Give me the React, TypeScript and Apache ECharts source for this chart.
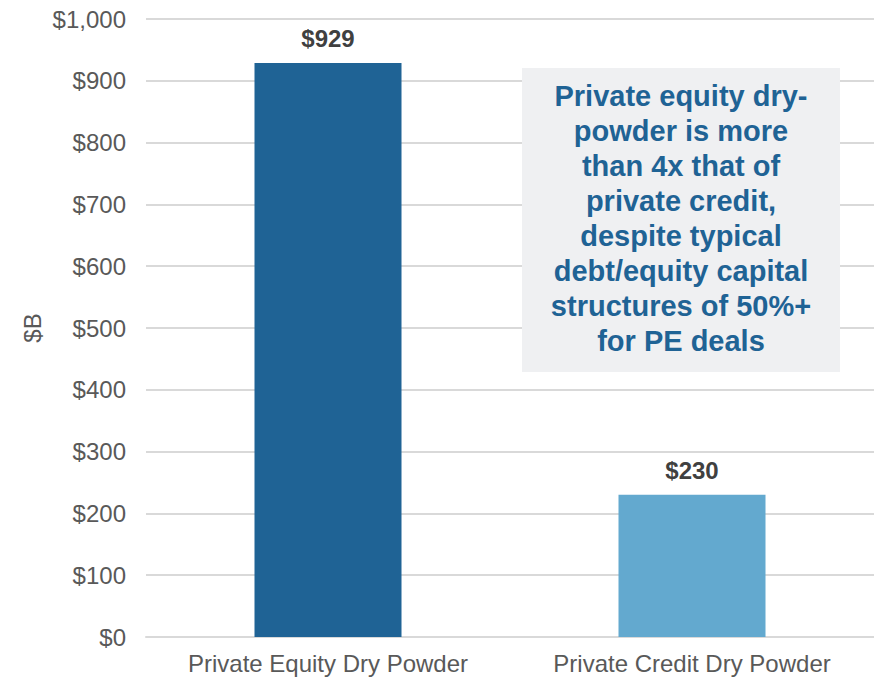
import React, { useEffect, useRef } from "react";
import * as echarts from "echarts";

const categories = ["Private Equity Dry Powder", "Private Credit Dry Powder"];
const values = [929, 230];
const barColors = ["#1f6395", "#63a9cf"];
const annotationLines = [
  "Private equity dry-",
  "powder is more",
  "than 4x that of",
  "private credit,",
  "despite typical",
  "debt/equity capital",
  "structures of 50%+",
  "for PE deals",
];
const yAxisName = "$B";

const FONT = "'Liberation Sans', Arial, Helvetica, sans-serif";

export default function App() {
  const ref = useRef<HTMLDivElement>(null);
  useEffect(() => {
    if (!ref.current) return;
    const chart = echarts.init(ref.current, undefined, { renderer: "svg" });
    chart.setOption({
      animation: false,
      grid: { left: 146, right: 0, top: 19, bottom: 41, containLabel: false },
      xAxis: {
        type: "category",
        data: categories,
        axisLine: { show: true, lineStyle: { color: "#d9d9d9", width: 2 } },
        axisTick: { show: false },
        axisLabel: { color: "#595959", fontSize: 24, fontFamily: FONT, margin: 14, interval: 0 },
      },
      yAxis: {
        type: "value",
        min: 0,
        max: 1000,
        interval: 100,
        axisLine: { show: false },
        axisTick: { show: false },
        splitLine: { lineStyle: { color: "#d9d9d9", width: 2 } },
        axisLabel: {
          color: "#595959",
          fontSize: 24,
          fontFamily: FONT,
          margin: 20,
          formatter: (v: number) => "$" + v.toLocaleString("en-US"),
        },
      },
      series: [
        {
          type: "bar",
          barWidth: 147,
          data: values.map((v, i) => ({ value: v, itemStyle: { color: barColors[i] } })),
          label: {
            show: true,
            position: "top",
            distance: 12,
            color: "#404040",
            fontWeight: "bold",
            fontSize: 24,
            fontFamily: FONT,
            formatter: (p: any) => "$" + p.value,
          },
        },
      ],
      graphic: [
        {
          type: "text",
          x: 32,
          y: 328,
          rotation: Math.PI / 2,
          style: {
            text: yAxisName,
            fill: "#595959",
            font: `24px ${FONT}`,
            textAlign: "center",
            textVerticalAlign: "middle",
          },
        },
        {
          type: "rect",
          shape: { x: 522, y: 68, width: 318, height: 304 },
          style: { fill: "#eff0f2" },
          z: 10,
        },
        {
          type: "text",
          x: 681,
          y: 218,
          z: 11,
          style: {
            text: annotationLines.join("\n"),
            fill: "#1f6395",
            font: `bold 29px ${FONT}`,
            lineHeight: 35,
            textAlign: "center",
            textVerticalAlign: "middle",
          },
        },
      ],
    });
    return () => chart.dispose();
  }, []);
  return (
    <div
      ref={ref}
      style={{ position: "fixed", left: 0, top: 0, width: 874, height: 678, background: "#fff" }}
    />
  );
}
